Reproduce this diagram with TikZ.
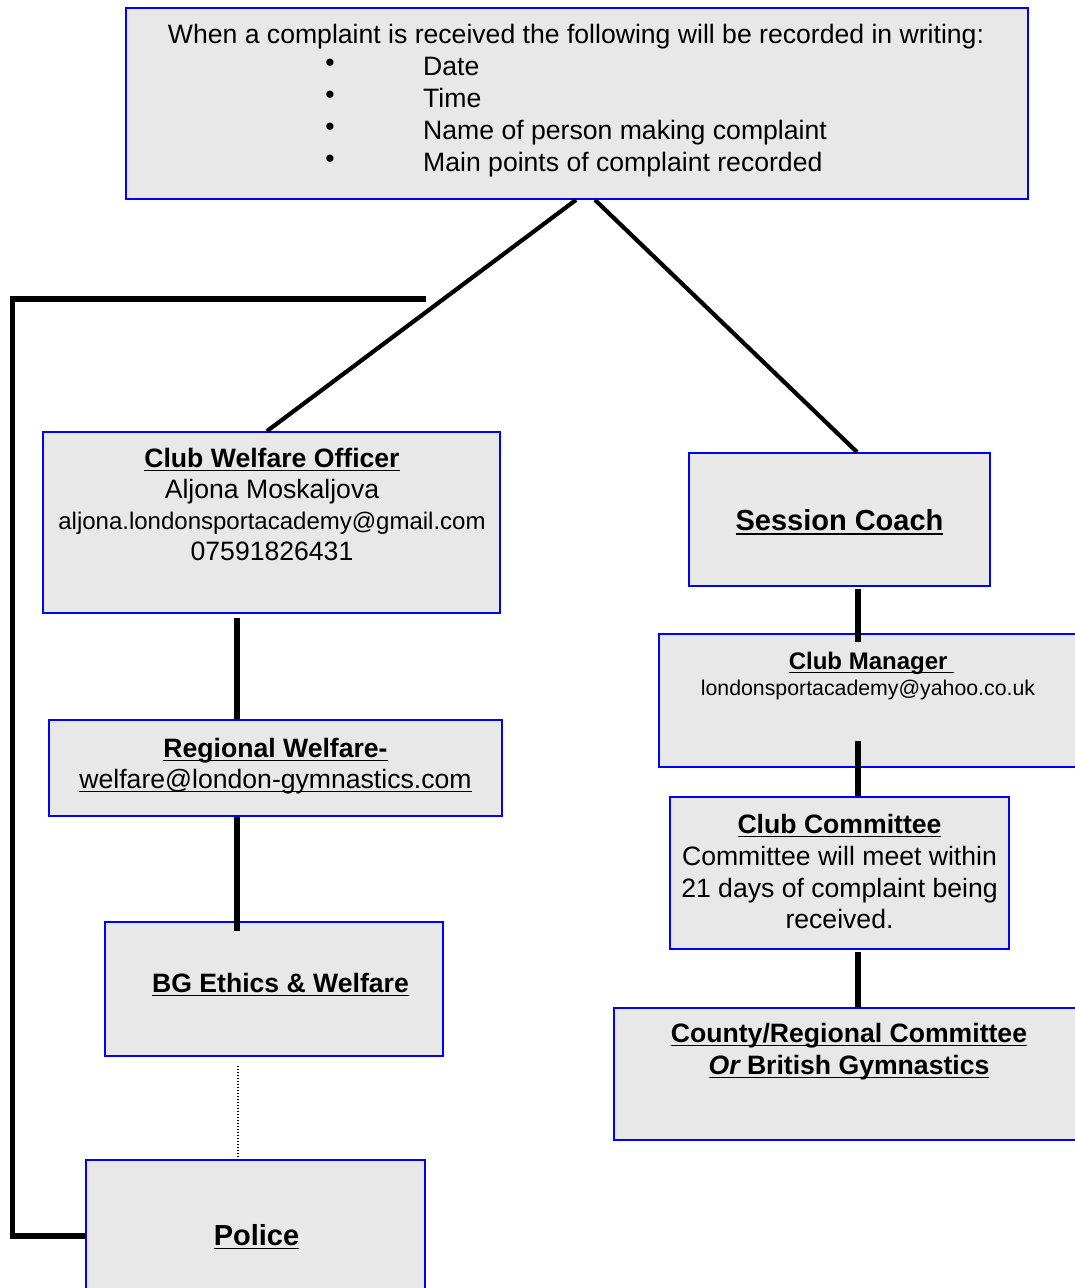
\documentclass[tikz,border=0pt]{standalone}
\usepackage{fontspec}
\setmainfont{Liberation Sans}
\usetikzlibrary{calc}
\definecolor{boxfill}{HTML}{E8E8E8}
\definecolor{boxline}{HTML}{0000FF}
\newcommand\fsmain{\fontsize{26.6pt}{32pt}\selectfont}
\newcommand\fsbig{\fontsize{29pt}{34pt}\selectfont}
\newcommand\fsmid{\fontsize{24pt}{28pt}\selectfont}
\newcommand\fssmall{\fontsize{21.3pt}{26pt}\selectfont}
\newcommand\myul[1]{\setbox0\hbox{#1}\rlap{\rule[-4.3pt]{\wd0}{1.6pt}}\box0}
\tikzset{
  boxnode/.style={draw=boxline, fill=boxfill, line width=1.8pt, inner sep=0pt, rectangle},
  lbl/.style={anchor=base, inner sep=0pt, font=\fsmain},
  lblw/.style={anchor=base west, inner sep=0pt, font=\fsmain},
  conn/.style={line width=5.3pt, black},
  diag/.style={line width=4.2pt, black},
  dotconn/.style={line width=1.5pt, black, dash pattern=on 1.5pt off 1.5pt}
}
\begin{document}
\begin{tikzpicture}[x=1pt,y=-1pt]
\clip (0,0) rectangle (1075,1288);
\fill[white] (0,0) rectangle (1075,1288);
% boxes
\node[boxnode, minimum width=902pt, minimum height=191pt] (top) at (577,103.5) {};
\node[boxnode, minimum width=457pt, minimum height=181pt] (cwo) at (271.5,522.5) {};
\node[boxnode, minimum width=453pt, minimum height=96pt] (reg) at (275.5,768) {};
\node[boxnode, minimum width=338pt, minimum height=134pt] (bg) at (274,989) {};
\node[boxnode, minimum width=339pt, minimum height=152pt] (police) at (255.5,1236) {};
\node[boxnode, minimum width=301pt, minimum height=133pt] (sc) at (839.5,519.5) {};
\node[boxnode, minimum width=418pt, minimum height=133pt] (cm) at (868,700.5) {};
\node[boxnode, minimum width=339pt, minimum height=152pt] (cc) at (839.5,873) {};
\node[boxnode, minimum width=470pt, minimum height=132pt] (county) at (849,1074) {};
% top box text
\node[lbl] (toptitle) at (576,43) {When a complaint is received the following will be recorded in writing:};
\node[lbl] (b1) at (330,71) {•};
\node[lbl] (b2) at (330,103) {•};
\node[lbl] (b3) at (330,135) {•};
\node[lbl] (b4) at (330,167) {•};
\node[lblw] (i1) at (423,75) {Date};
\node[lblw] (i2) at (423,107) {Time};
\node[lblw] (i3) at (423,139) {Name of person making complaint};
\node[lblw] (i4) at (423,171) {Main points of complaint recorded};
% club welfare officer
\node[lbl] (cwo1) at (272,467) {\myul{\bfseries Club Welfare Officer}};
\node[lbl] (cwo2) at (272,498) {Aljona Moskaljova};
\node[lbl, font=\fsmid] (cwo3) at (272,529) {aljona.londonsportacademy@gmail.com};
\node[lbl] (cwo4) at (272,560) {07591826431};
% regional welfare
\node[lbl] (reg1) at (275.5,757) {\myul{\bfseries Regional Welfare-}};
\node[lbl] (reg2) at (275.5,788) {\myul{welfare@london-gymnastics.com}};
% bg
\node[lbl] (bg1) at (280.5,992) {\myul{\bfseries BG Ethics \& Welfare}};
% police
\node[lbl, font=\fsbig] (pol1) at (256.5,1245) {\myul{\bfseries Police}};
% session coach
\node[lbl, font=\fsbig] (sc1) at (839.5,530.5) {\myul{\bfseries Session Coach}};
% club manager
\node[lbl, font=\fsmid] (cm1) at (871.5,669) {\myul{\bfseries Club Manager\ }};
\node[lbl, font=\fssmall] (cm2) at (868,695) {londonsportacademy@yahoo.co.uk};
% club committee
\node[lbl] (cc1) at (839.5,833) {\myul{\bfseries Club Committee}};
\node[lbl] (cc2) at (839.5,865) {Committee will meet within};
\node[lbl] (cc3) at (839.5,897) {21 days of complaint being};
\node[lbl] (cc4) at (839.5,928) {received.};
% county
\node[lbl] (co1) at (849,1042) {\myul{\bfseries County/Regional Committee}};
\node[lbl] (co2) at (849,1074) {\myul{\bfseries\itshape Or\ \upshape British Gymnastics}};
% connectors
\coordinate (brk) at (426,299);
\draw[diag] (top.south -| 576,0) -- (cwo.north -| 267,0);
\draw[diag] (top.south -| 595,0) -- (sc.north -| 857,0);
\draw[conn] (brk) -- (12.5,299) -- (12.5,1236) -- (police.west);
\draw[conn] ($(cwo.south -| 237,0)+(0,4)$) -- (reg.north -| 237,0);
\draw[conn] (reg.south -| 237,0) -- ($(bg.north -| 237,0)+(0,10)$);
\draw[dotconn] ($(bg.south -| 238,0)+(0,9)$) -- ($(police.north -| 238,0)+(0,-2)$);
\draw[conn] ($(sc.south -| 858,0)+(0,2)$) -- ($(cm.north -| 858,0)+(0,9)$);
\draw[conn] ($(cm.south -| 858,0)+(0,-27)$) -- (cc.north -| 858,0);
\draw[conn] ($(cc.south -| 858,0)+(0,2)$) -- (county.north -| 858,0);
\end{tikzpicture}
\end{document}
